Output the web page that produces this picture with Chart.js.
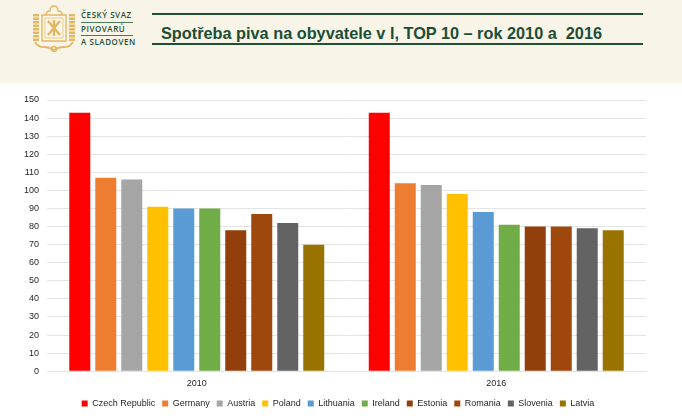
<!DOCTYPE html>
<html>
<head>
<meta charset="utf-8">
<script src="https://cdn.jsdelivr.net/npm/chart.js@4"></script>
<style>
  html,body{margin:0;padding:0;background:#fff;overflow:hidden}
  #page{position:relative;width:682px;height:420px;font-family:"Liberation Sans",sans-serif}
  #banner{position:absolute;left:0;top:0;width:682px;height:83px;background:#f8f4e7}
  .rule{position:absolute;left:152px;width:491px;height:2px;background:#1f4f36}
  #title{position:absolute;left:161px;top:22px;font-size:16.3px;line-height:22px;font-weight:bold;color:#1c4d35;white-space:pre}
  .org{position:absolute;left:81px;font-family:"Open Sans",sans-serif;font-size:8px;font-weight:600;line-height:10px;color:#1f4f36;letter-spacing:.55px;white-space:nowrap}
  .orgline{position:absolute;left:81px;width:52px;height:1px;background:#4c7a5c}
  #logo{position:absolute;left:31px;top:3px}
  #wrap{position:absolute;left:0;top:83px;width:682px;height:337px}
</style>
</head>
<body>
<div id="page">
  <div id="banner">
    <svg id="logo" width="46" height="50" viewBox="0 0 46 50" fill="none" stroke="#e4b765" stroke-width="1.4">
      <path d="M11 12h24v26H11z" fill="#fbf6e6"/>
      <path d="M14 15h18v20H14z" stroke-width=".7"/>
      <path d="M17 18l12 14M29 18L17 32M23 17v16" stroke-width="2.4"/>
      <path d="M15 12q0-4 4-4q0-5 4-5t4 5q4 0 4 4"/>
      <path d="M5 11v27M41 11v27" stroke-width="6" stroke-dasharray="2.5 1"/>
      <path d="M4 39q4 6 10 5q4 0 9 3q5-3 9-3q6 1 10-5" stroke-width="1.8"/>
      <circle cx="23" cy="46" r="2.5"/>
    </svg>
    <div class="org" style="top:10px">ČESKÝ SVAZ</div>
    <div class="orgline" style="top:22px"></div>
    <div class="org" style="top:24px">PIVOVARŮ</div>
    <div class="orgline" style="top:35px"></div>
    <div class="org" style="top:37px">A SLADOVEN</div>
    <div class="rule" style="top:13px"></div>
    <div id="title">Spotřeba piva na obyvatele v l, TOP 10 – rok 2010 a  2016</div>
    <div class="rule" style="top:43px"></div>
  </div>
  <div id="wrap"><canvas id="myChart" width="682" height="337"></canvas></div>
</div>
<script>
const years=['2010','2016'];
const yTicks=[0,10,20,30,40,50,60,70,80,90,100,110,120,130,140,150];

// litres per person, [2010, 2016]
const czechRepublic=[143,143];
const germany=[107,104];
const austria=[106,103];
const poland=[91,98];
const lithuania=[90,88];
const ireland=[90,81];
const estonia=[78,80];
const romania=[87,80];
const slovenia=[82,79];
const latvia=[70,78];

const countries=['Czech Republic','Germany','Austria','Poland','Lithuania','Ireland','Estonia','Romania','Slovenia','Latvia'];
const values=[czechRepublic,germany,austria,poland,lithuania,ireland,estonia,romania,slovenia,latvia];
const colours=['#ff0000','#ed7d31','#a5a5a5','#ffc000','#5b9bd5','#70ad47','#933f0b','#9e480e','#636363','#997300'];

const datasets=countries.map((name,i)=>({
  label:name,
  data:values[i],
  backgroundColor:colours[i],
  borderWidth:0,
  categoryPercentage:0.868,
  barPercentage:0.808
}));

const textColour='#262626';
const chartFont={family:'"Liberation Sans", sans-serif',size:9};

// legend sits a little right of the canvas centre in the original
const shiftLegend={
  id:'shiftLegend',
  afterLayout(chart){
    chart.legend.left+=7;
    chart.legend.right+=7;
  }
};

new Chart(document.getElementById('myChart'),{
  type:'bar',
  data:{labels:years,datasets:datasets},
  plugins:[shiftLegend],
  options:{
    responsive:false,
    animation:false,
    layout:{padding:{left:16,right:36,top:17,bottom:2}},
    plugins:{
      tooltip:{enabled:false},
      legend:{
        position:'bottom',
        labels:{boxWidth:6,boxHeight:6,padding:7,color:textColour,font:chartFont}
      }
    },
    scales:{
      x:{
        grid:{display:false,drawTicks:false},
        border:{color:'#e2e2e2',width:1},
        ticks:{color:textColour,font:chartFont,padding:7},
        // let the plot run closer to the legend
        afterFit:(axis)=>{axis.height-=4}
      },
      y:{
        min:0,
        max:150,
        afterBuildTicks:(axis)=>{axis.ticks=yTicks.map(v=>({value:v}))},
        grid:{color:'#e4e4e4',lineWidth:1,drawTicks:false},
        border:{display:false},
        ticks:{color:textColour,font:chartFont,padding:8}
      }
    }
  }
});
</script>
</body>
</html>
